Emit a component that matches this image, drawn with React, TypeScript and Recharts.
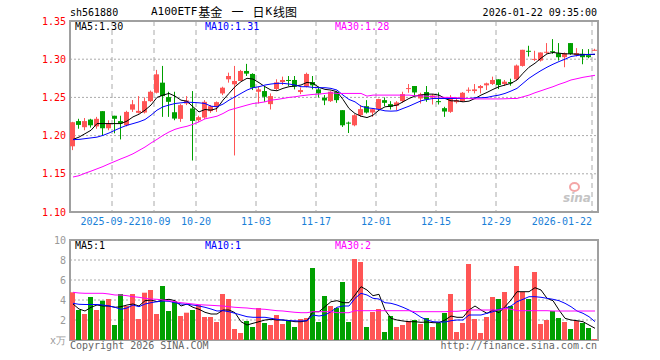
import { ComposedChart, Bar, Line, XAxis, YAxis, CartesianGrid, ReferenceArea } from 'recharts';

const RED = '#ff5555';
const GREEN = '#00a000';
const MONO = '"DejaVu Sans Mono", "Liberation Mono", monospace';
const CJK = '"Noto Sans CJK SC", sans-serif';

// x-axis labels and the trading-day index where each gridline sits
const tickIdx = [7, 14, 21, 31, 41, 51, 61, 71, 87];
const tickLabels = ['2025-09-22', '10-09', '10-20', '11-03', '11-17', '12-01', '12-15', '12-29', '2026-01-22'];

const priceTicks = [1.1, 1.15, 1.2, 1.25, 1.3, 1.35];
const volTicks = [0, 2, 4, 6, 8, 10];

const open = [
  1.186, 1.219, 1.211, 1.221, 1.212, 1.232, 1.2096, 1.226, 1.219, 1.2135,
  1.234, 1.2298, 1.2302, 1.2451, 1.2561, 1.2693, 1.2504, 1.2306, 1.2219, 1.242,
  1.2355, 1.2201, 1.2236, 1.232, 1.2377, 1.2552, 1.2737, 1.2671, 1.2715, 1.2846,
  1.2807, 1.2574, 1.2583, 1.2412, 1.261, 1.2701, 1.2728, 1.2728, 1.257, 1.264,
  1.2701, 1.2605, 1.2495, 1.2451, 1.2574, 1.2333, 1.217, 1.2135, 1.2267, 1.2385,
  1.2302, 1.2346, 1.2464, 1.2412, 1.239, 1.2451, 1.2614, 1.2649, 1.2486, 1.257,
  1.25, 1.2451, 1.2359, 1.2311, 1.2438, 1.2451, 1.2592, 1.2583, 1.2622, 1.2658,
  1.2675, 1.2737, 1.2675, 1.2701, 1.2737, 1.2912, 1.311, 1.2996, 1.2982, 1.3092,
  1.3105, 1.3079, 1.3026, 1.3211, 1.3053, 1.307, 1.3053, 1.3119,
];
const high = [
  1.218, 1.222, 1.223, 1.222, 1.2245, 1.232, 1.22, 1.226, 1.226, 1.2325,
  1.2465, 1.2517, 1.25, 1.259, 1.286, 1.2912, 1.2574, 1.2574, 1.2412, 1.2517,
  1.2583, 1.226, 1.2464, 1.24, 1.2447, 1.264, 1.2824, 1.2912, 1.286, 1.2939,
  1.2816, 1.264, 1.264, 1.2552, 1.2737, 1.2772, 1.278, 1.278, 1.2631, 1.2824,
  1.278, 1.264, 1.253, 1.258, 1.2574, 1.2333, 1.2183, 1.228, 1.2399, 1.2464,
  1.2355, 1.2482, 1.25, 1.2451, 1.2451, 1.2574, 1.2675, 1.2649, 1.2561, 1.2649,
  1.2543, 1.2565, 1.2377, 1.253, 1.25, 1.257, 1.2631, 1.2675, 1.2662, 1.2693,
  1.2772, 1.2737, 1.2728, 1.2745, 1.293, 1.3123, 1.3176, 1.311, 1.3088, 1.3211,
  1.3263, 1.3211, 1.3088, 1.3211, 1.3145, 1.3132, 1.3132, 1.3136,
];
const low = [
  1.181, 1.209, 1.207, 1.2105, 1.209, 1.2, 1.207, 1.203, 1.195, 1.212,
  1.231, 1.229, 1.229, 1.244, 1.2552, 1.2245, 1.2245, 1.2201, 1.218, 1.2399,
  1.1674, 1.218, 1.2219, 1.2298, 1.231, 1.253, 1.2693, 1.174, 1.2715, 1.278,
  1.2596, 1.242, 1.2442, 1.2342, 1.2596, 1.2662, 1.2649, 1.2605, 1.2543, 1.2631,
  1.2605, 1.25, 1.2399, 1.244, 1.2429, 1.2113, 1.2034, 1.2122, 1.2245, 1.2289,
  1.2245, 1.2333, 1.2385, 1.2342, 1.2333, 1.2429, 1.2561, 1.2517, 1.242, 1.2442,
  1.2407, 1.2407, 1.2245, 1.2298, 1.242, 1.244, 1.2561, 1.2552, 1.2552, 1.2596,
  1.2662, 1.2609, 1.2649, 1.2653, 1.2728, 1.2903, 1.3035, 1.2978, 1.2969, 1.307,
  1.307, 1.2982, 1.2895, 1.3057, 1.3035, 1.2934, 1.3013, 1.311,
];
const close = [
  1.2175, 1.214, 1.219, 1.2135, 1.222, 1.2096, 1.2157, 1.222, 1.216, 1.231,
  1.241, 1.2324, 1.2451, 1.2574, 1.2802, 1.2517, 1.2442, 1.2223, 1.2399, 1.246,
  1.2192, 1.2241, 1.2442, 1.2385, 1.2438, 1.2627, 1.278, 1.2715, 1.2846, 1.2811,
  1.2627, 1.2605, 1.2508, 1.2517, 1.2697, 1.2728, 1.2715, 1.264, 1.2596, 1.2807,
  1.2658, 1.2552, 1.246, 1.2574, 1.2464, 1.2135, 1.2157, 1.2267, 1.2346, 1.2302,
  1.2346, 1.2478, 1.2429, 1.2377, 1.2434, 1.2543, 1.2622, 1.2565, 1.2543, 1.2473,
  1.2526, 1.2442, 1.2315, 1.2495, 1.2464, 1.2561, 1.26, 1.2605, 1.2649, 1.2684,
  1.2728, 1.2662, 1.2706, 1.2684, 1.2917, 1.3123, 1.3097, 1.3004, 1.3088, 1.3097,
  1.3101, 1.3026, 1.3079, 1.307, 1.3079, 1.3026, 1.3026, 1.3123,
];
const ma5 = [
  1.195, 1.198, 1.2025, 1.207, 1.2157, 1.2157, 1.2157, 1.2157, 1.2157, 1.219,
  1.2245, 1.228, 1.2333, 1.24, 1.25, 1.253, 1.2552, 1.2517, 1.2464, 1.245,
  1.2377, 1.231, 1.2342, 1.2333, 1.2355, 1.2464, 1.2552, 1.264, 1.2706, 1.275,
  1.274, 1.2693, 1.264, 1.2596, 1.2587, 1.2618, 1.264, 1.2649, 1.2662, 1.2697,
  1.2684, 1.2631, 1.2605, 1.2596, 1.2574, 1.2473, 1.2355, 1.2289, 1.2254, 1.2236,
  1.2267, 1.2333, 1.2377, 1.2385, 1.2399, 1.2442, 1.2486, 1.2517, 1.253, 1.2543,
  1.2543, 1.253, 1.2486, 1.2455, 1.2455, 1.2442, 1.2451, 1.2486, 1.253, 1.2565,
  1.2605, 1.264, 1.2662, 1.2684, 1.2728, 1.2816, 1.2895, 1.2947, 1.3013, 1.307,
  1.3088, 1.3079, 1.307, 1.307, 1.3066, 1.3062, 1.3062, 1.3062,
];
const ma10 = [
  1.1947, 1.195, 1.196, 1.197, 1.198, 1.2003, 1.2034, 1.207, 1.2105, 1.2135,
  1.2157, 1.218, 1.221, 1.2267, 1.2333, 1.2377, 1.24, 1.242, 1.2429, 1.2438,
  1.2434, 1.2429, 1.242, 1.2385, 1.2377, 1.2412, 1.2464, 1.2508, 1.2552, 1.2596,
  1.2627, 1.264, 1.2662, 1.2675, 1.2684, 1.2684, 1.2675, 1.2662, 1.264, 1.264,
  1.2631, 1.2627, 1.2627, 1.2618, 1.2596, 1.253, 1.2473, 1.2442, 1.2385, 1.2364,
  1.2355, 1.2342, 1.2324, 1.232, 1.2324, 1.2355, 1.2385, 1.242, 1.2455, 1.2473,
  1.2486, 1.2486, 1.2486, 1.2486, 1.2486, 1.2486, 1.2486, 1.2495, 1.2495, 1.25,
  1.2517, 1.253, 1.2552, 1.2583, 1.2618, 1.2684, 1.275, 1.2802, 1.2851, 1.2895,
  1.2934, 1.2969, 1.3, 1.3035, 1.3048, 1.3057, 1.3062, 1.3066,
];
const ma30 = [
  1.1458, 1.1475, 1.1507, 1.1535, 1.1565, 1.1595, 1.163, 1.1663, 1.1696, 1.1727,
  1.1762, 1.1806, 1.185, 1.1903, 1.1951, 1.2003, 1.2047, 1.2082, 1.2105, 1.2122,
  1.2148, 1.218, 1.2219, 1.2236, 1.2254, 1.2289, 1.2333, 1.2355, 1.2377, 1.2399,
  1.242, 1.2429, 1.2442, 1.2464, 1.2473, 1.2486, 1.25, 1.2508, 1.2521, 1.253,
  1.2539, 1.2543, 1.2552, 1.2561, 1.2552, 1.2552, 1.2552, 1.2552, 1.2552, 1.2517,
  1.253, 1.253, 1.253, 1.253, 1.253, 1.253, 1.253, 1.2521, 1.252, 1.2515,
  1.251, 1.2505, 1.25, 1.25, 1.2495, 1.249, 1.2485, 1.248, 1.248, 1.248,
  1.248, 1.248, 1.2482, 1.2485, 1.2486, 1.2508, 1.253, 1.2561, 1.2587, 1.2614,
  1.264, 1.2671, 1.2697, 1.2728, 1.2745, 1.2763, 1.2776, 1.2789,
];

// volume, 万手
const vol = [
  4.77, 3.0, 2.6, 4.3, 3.0, 3.93, 4.1, 1.5, 4.6, 3.4,
  4.6, 2.1, 4.73, 5.0, 2.6, 5.4, 2.9, 3.83, 2.4, 2.73,
  3.0, 3.5, 2.3, 2.3, 1.8, 4.6, 4.1, 1.1, 0.7, 1.9,
  1.3, 3.2, 1.7, 1.5, 2.5, 1.6, 2.0, 1.3, 2.1, 2.2,
  7.2, 1.8, 4.4, 3.4, 3.2, 5.8, 1.8, 8.1, 7.8, 1.3,
  2.8, 3.1, 0.8, 2.4, 1.3, 1.5, 1.9, 2.0, 1.6, 2.2,
  1.3, 1.7, 2.7, 4.6, 0.8, 1.7, 7.6, 2.1, 0.7, 2.3,
  4.3, 4.1, 4.8, 3.4, 7.4, 4.8, 4.1, 6.8, 1.6, 2.0,
  2.9, 2.2, 1.8, 1.1, 1.9, 1.7, 1.2, 0.1,
];
const vma5 = [
  3.6, 3.1, 2.9, 3.27, 3.5, 3.4, 3.4, 3.27, 3.33, 3.5,
  3.6, 3.4, 3.93, 4.0, 3.83, 4.0, 4.07, 3.93, 3.4, 3.6,
  3.27, 3.07, 2.77, 2.6, 2.6, 3.0, 3.0, 2.73, 1.83, 1.5,
  1.67, 1.83, 2.0, 2.07, 2.0, 2.0, 1.93, 1.83, 1.83, 1.93,
  2.83, 2.83, 3.33, 3.83, 3.93, 3.73, 3.73, 4.5, 5.33, 5.0,
  4.43, 4.57, 3.0, 2.17, 2.0, 1.9, 1.83, 1.83, 1.77, 1.8,
  1.73, 1.73, 2.0, 2.4, 2.27, 2.27, 3.0, 3.4, 3.0, 2.67,
  3.0, 2.73, 3.33, 4.0, 4.83, 4.83, 4.83, 5.23, 5.0, 4.17,
  3.93, 3.0, 2.17, 2.0, 1.93, 1.83, 1.5, 1.17,
];
const vma10 = [
  3.67, 3.57, 3.55, 3.55, 3.55, 3.5, 3.4, 3.27, 3.07, 3.2,
  3.5, 3.33, 3.6, 3.73, 3.83, 3.9, 3.87, 3.73, 3.6, 3.57,
  3.5, 3.4, 3.27, 3.1, 2.9, 2.93, 2.83, 2.67, 2.5, 2.33,
  2.27, 2.27, 2.27, 2.17, 2.07, 2.0, 1.93, 1.92, 1.9, 1.93,
  2.5, 2.4, 2.5, 2.83, 3.27, 3.4, 3.4, 4.17, 4.67, 4.5,
  4.17, 4.1, 3.73, 3.67, 3.5, 3.27, 3.0, 2.67, 2.27, 2.0,
  1.83, 1.8, 1.8, 1.93, 2.0, 2.0, 2.5, 2.5, 2.5, 2.67,
  2.83, 3.07, 3.17, 3.4, 3.83, 4.07, 4.33, 4.33, 4.27, 4.17,
  4.07, 3.93, 3.67, 3.33, 2.9, 2.67, 2.33, 1.83,
];
const vma30 = [
  4.77, 4.7, 4.67, 4.67, 4.67, 4.67, 4.6, 4.5, 4.5, 4.43,
  4.33, 4.27, 4.17, 4.1, 4.07, 4.0, 3.93, 3.83, 3.73, 3.67,
  3.6, 3.53, 3.5, 3.47, 3.43, 3.4, 3.33, 3.27, 3.23, 3.2,
  3.13, 3.1, 3.07, 3.0, 2.93, 2.9, 2.83, 2.77, 2.73, 2.73,
  2.83, 2.83, 2.83, 2.83, 2.73, 2.73, 2.73, 2.93, 2.93, 2.93,
  2.93, 2.93, 2.93, 2.93, 2.93, 2.93, 2.93, 2.83, 2.83, 2.83,
  2.83, 2.83, 2.83, 2.87, 2.87, 2.93, 3.0, 3.0, 3.0, 3.0,
  3.0, 3.0, 3.17, 3.07, 2.93, 2.93, 2.93, 2.93, 2.93, 2.93,
  2.9, 2.9, 2.9, 2.9, 2.9, 2.9, 2.9, 2.9,
];

const priceLegend = [
  { text: 'MA5:1.30', color: '#000000', left: 75 },
  { text: 'MA10:1.31', color: '#0000ff', left: 205 },
  { text: 'MA30:1.28', color: '#ff00ff', left: 335 },
];
const volLegend = [
  { text: 'MA5:1', color: '#000000', left: 75 },
  { text: 'MA10:1', color: '#0000ff', left: 205 },
  { text: 'MA30:2', color: '#ff00ff', left: 335 },
];

const rows = open.map((o, i) => ({
  x: i + 0.5,
  o,
  h: high[i],
  l: low[i],
  c: close[i],
  range: [low[i], high[i]],
  ma5: ma5[i],
  ma10: ma10[i],
  ma30: ma30[i],
  v: vol[i],
  vma5: vma5[i],
  vma10: vma10[i],
  vma30: vma30[i],
}));

const Candle = (props: any) => {
  const { x, y, width, height, payload } = props;
  const { o, c, h, l } = payload;
  const color = c >= o ? RED : GREEN;
  const k = height / (h - l);
  const yO = y + (h - o) * k;
  const yC = y + (h - c) * k;
  const rx = Math.round(x);
  const cx = rx + width / 2;
  const top = Math.min(yO, yC);
  const bh = Math.max(1, Math.abs(yO - yC));
  return (
    <g>
      <line x1={cx} x2={cx} y1={y} y2={y + height} stroke={color} strokeWidth={1} />
      <rect x={rx} y={top} width={width} height={bh} fill={color} />
    </g>
  );
};

const VolBar = (props: any) => {
  const { x, y, width, height, payload } = props;
  const color = payload.c >= payload.o ? RED : GREEN;
  return <rect x={Math.round(x)} y={y} width={width} height={Math.max(0, height)} fill={color} />;
};

// the first two labels sit close together, nudge them apart a little
const tickShift = [-1.5, 1.5, 0, 0, 0, 0, 0, 0, 0];

const XTick = ({ x, y, payload }: any) => {
  const i = tickIdx.indexOf(payload.value);
  const last = i === tickIdx.length - 1;
  return (
    <text
      x={x + tickShift[i]}
      y={y}
      dy="0.71em"
      textAnchor={last ? 'end' : 'middle'}
      fill="#1a7fd8"
      fontSize={10}
      fontFamily={MONO}
    >
      {tickLabels[i]}
    </text>
  );
};

const label = (top: number, left: number, color: string, text: string) => (
  <div
    key={text + top}
    style={{ position: 'absolute', top, left, color, fontSize: 10, fontFamily: MONO, lineHeight: '12px', whiteSpace: 'nowrap' }}
  >
    {text}
  </div>
);

const titleSpan = (text: string, cjk: boolean, gap = 0) => (
  <span
    style={{
      display: 'inline-block',
      height: 13,
      lineHeight: '13px',
      verticalAlign: 'top',
      fontFamily: cjk ? CJK : MONO,
      fontSize: cjk ? 12 : 11,
      marginLeft: gap,
    }}
  >
    {text}
  </span>
);

export default function App() {
  return (
    <div style={{ position: 'absolute', left: 0, top: 0, width: 660, height: 360, background: '#fff', overflow: 'hidden' }}>
      <div style={{ position: 'absolute', left: 0, top: 0 }}>
        <ComposedChart width={660} height={230} data={rows} margin={{ top: 21, right: 62, bottom: 0, left: 0 }}>
          <CartesianGrid horizontal vertical={false} stroke="#aaa" strokeDasharray="2 2" />
          <CartesianGrid horizontal={false} vertical stroke="#aaa" strokeDasharray="5 4" />
          <XAxis
            type="number"
            dataKey="x"
            domain={[0, 88]}
            ticks={tickIdx}
            interval={0}
            height={18}
            tickLine={false}
            axisLine={false}
            tickSize={0}
            tickMargin={6}
            tick={<XTick />}
            allowDataOverflow
          />
          <YAxis
            domain={[1.1, 1.35]}
            ticks={priceTicks}
            width={70}
            tickLine={false}
            axisLine={false}
            tickSize={2}
            tickMargin={2}
            interval={0}
            tickFormatter={(v: number) => v.toFixed(2)}
            tick={{ fill: '#ff0000', fontSize: 10, fontFamily: MONO }}
            allowDataOverflow
          />
          <Bar dataKey="range" barSize={5} shape={<Candle />} isAnimationActive={false} />
          <Line dataKey="ma5" stroke="#000000" strokeWidth={1} dot={false} activeDot={false} isAnimationActive={false} />
          <Line dataKey="ma10" stroke="#0000ff" strokeWidth={1} dot={false} activeDot={false} isAnimationActive={false} />
          <Line dataKey="ma30" stroke="#ff00ff" strokeWidth={1} dot={false} activeDot={false} isAnimationActive={false} />
          <ReferenceArea x1={0} x2={88} y1={1.1} y2={1.35} fill="none" fillOpacity={0} stroke="#a0a0a0" strokeWidth={2} />
        </ComposedChart>
      </div>

      <div style={{ position: 'absolute', left: 0, top: 230 }}>
        <ComposedChart width={660} height={120} data={rows} margin={{ top: 10, right: 62, bottom: 0, left: 0 }}>
          <CartesianGrid horizontal vertical={false} stroke="#aaa" strokeDasharray="2 2" />
          <CartesianGrid horizontal={false} vertical stroke="#aaa" strokeDasharray="5 4" />
          <XAxis
            type="number"
            dataKey="x"
            domain={[0, 88]}
            ticks={tickIdx}
            interval={0}
            height={10}
            tick={false}
            tickLine={false}
            axisLine={false}
            allowDataOverflow
          />
          <YAxis
            domain={[0, 10]}
            ticks={volTicks}
            width={70}
            tickLine={false}
            axisLine={false}
            tickSize={2}
            tickMargin={2}
            interval={0}
            tickFormatter={(v: number) => (v === 0 ? 'x万' : String(v))}
            tick={{ fill: '#999', fontSize: 10, fontFamily: MONO }}
            allowDataOverflow
          />
          <Bar dataKey="v" barSize={5} shape={<VolBar />} isAnimationActive={false} />
          <Line dataKey="vma5" stroke="#000000" strokeWidth={1} dot={false} activeDot={false} isAnimationActive={false} />
          <Line dataKey="vma10" stroke="#0000ff" strokeWidth={1} dot={false} activeDot={false} isAnimationActive={false} />
          <Line dataKey="vma30" stroke="#ff00ff" strokeWidth={1} dot={false} activeDot={false} isAnimationActive={false} />
          <ReferenceArea x1={0} x2={88} y1={0} y2={10} fill="none" fillOpacity={0} stroke="#a0a0a0" strokeWidth={2} />
        </ComposedChart>
      </div>

      {/* header */}
      {label(7, 70, '#000', 'sh561880')}
      <div style={{ position: 'absolute', top: 5, left: 151, height: 13, lineHeight: '13px', whiteSpace: 'nowrap', color: '#000' }}>
        {titleSpan('A100ETF', false)}
        {titleSpan('基金', true, 1)}
        {titleSpan('一', true, 9)}
        {titleSpan('日', true, 9)}
        {titleSpan('K', false, 1)}
        {titleSpan('线图', true, 1)}
      </div>
      <div style={{ position: 'absolute', top: 7, right: 63, fontSize: 10, fontFamily: MONO, lineHeight: '12px', color: '#000' }}>
        2026-01-22 09:35:00
      </div>

      {priceLegend.map((m) => label(21, m.left, m.color, m.text))}
      {volLegend.map((m) => label(240, m.left, m.color, m.text))}

      {/* sina watermark */}
      <div style={{ position: 'absolute', left: 569, top: 182, width: 7, height: 6, borderRadius: '50%', border: '2px solid #f4a6a6' }} />
      <div
        style={{ position: 'absolute', left: 563, top: 191, fontFamily: '"DejaVu Sans", sans-serif', fontSize: 12, fontWeight: 'bold', fontStyle: 'italic', color: '#c4c4c4', lineHeight: '14px' }}
      >
        sina
      </div>

      {/* footer */}
      {label(340, 70, '#666', 'Copyright 2026 SINA.COM')}
      <div style={{ position: 'absolute', top: 340, right: 63, fontSize: 10, fontFamily: MONO, lineHeight: '12px', color: '#666' }}>
        http://finance.sina.com.cn
      </div>
    </div>
  );
}
